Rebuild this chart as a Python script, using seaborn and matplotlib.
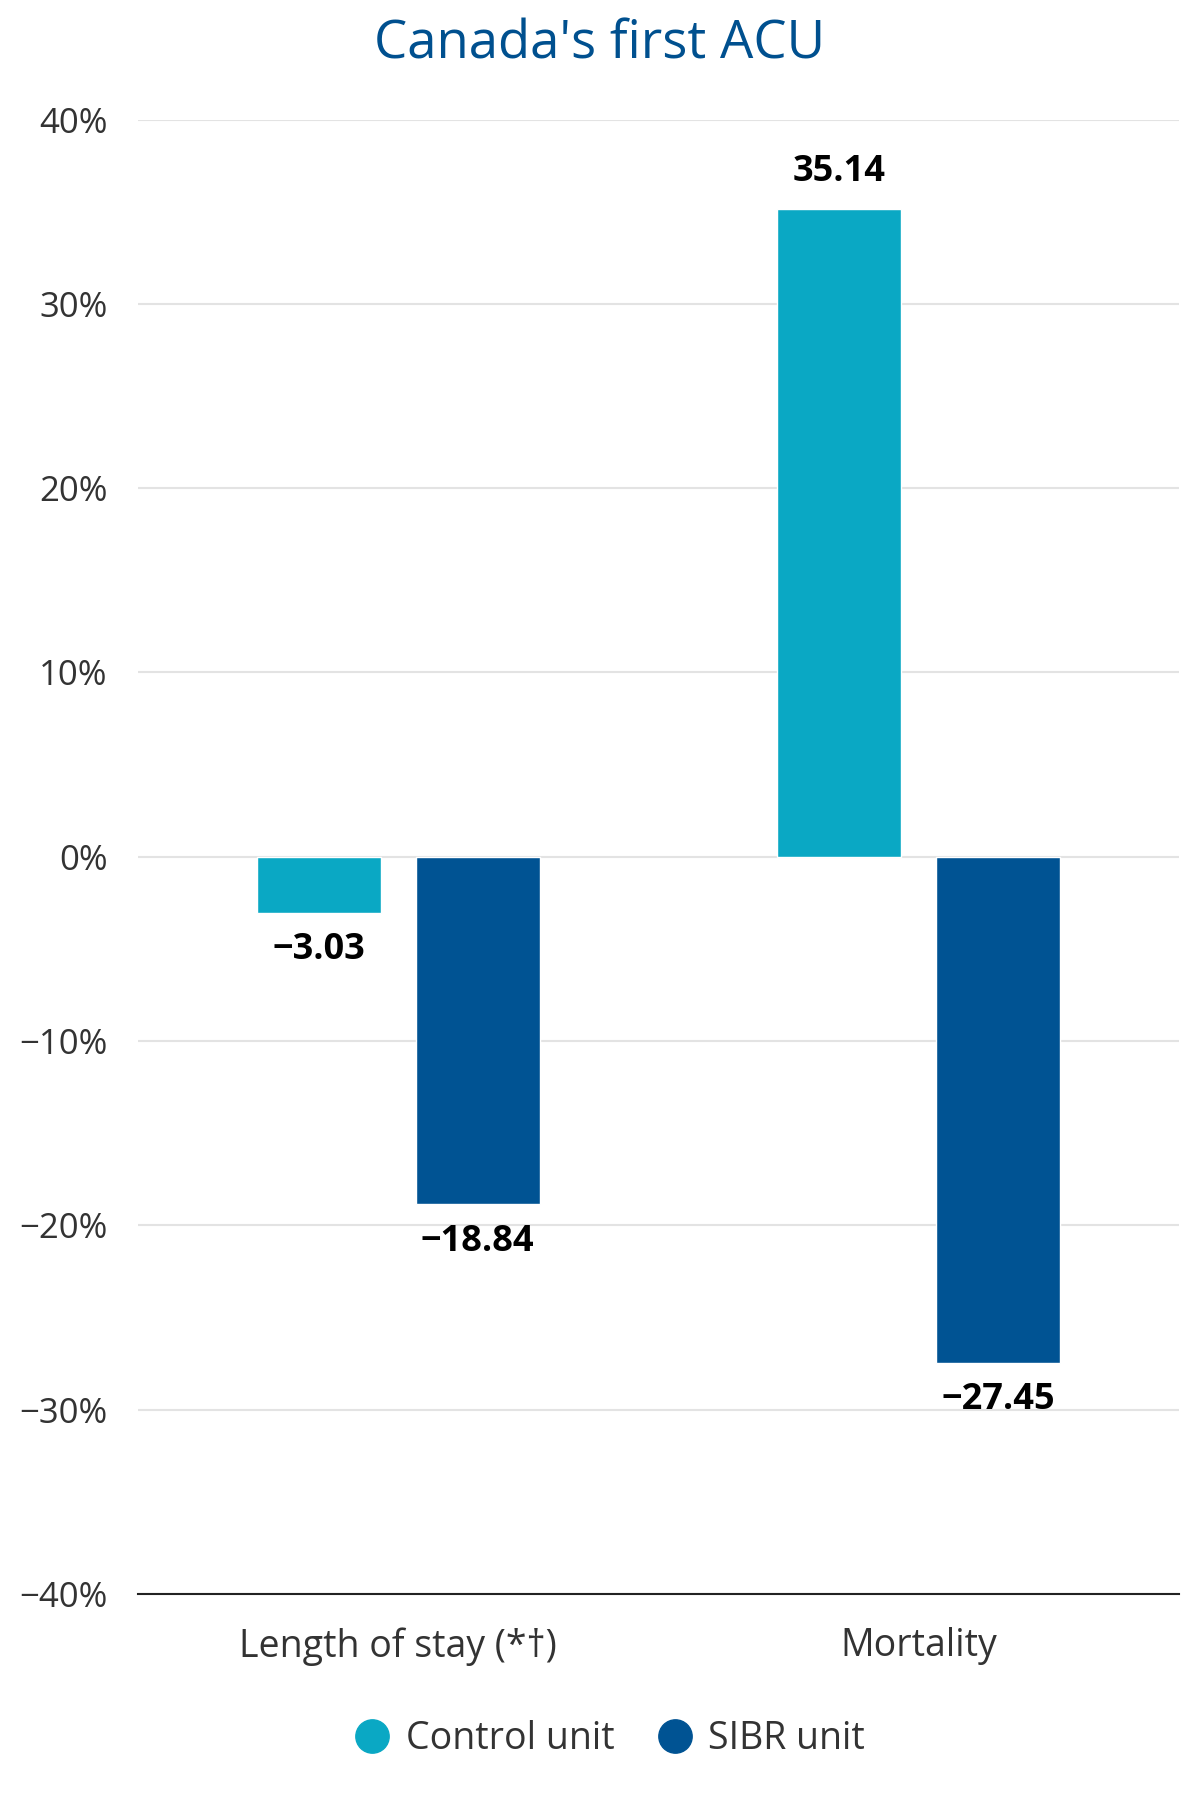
import matplotlib
matplotlib.use('Agg')
import matplotlib.pyplot as plt
import seaborn as sns
import pandas as pd
from matplotlib.lines import Line2D

# data
categories = ['Length of stay (*†)', 'Mortality']
control_unit = [-3.03, 35.14]
sibr_unit = [-18.84, -27.45]
series_names = ['Control unit', 'SIBR unit']
yticks = [-40, -30, -20, -10, 0, 10, 20, 30, 40]

colors = ['#0AA8C4', '#005393']
title_color = '#00508F'
text_color = '#333333'

df = pd.DataFrame({
    'category': categories * 2,
    'series': [series_names[0]] * 2 + [series_names[1]] * 2,
    'value': control_unit + sibr_unit,
})

sns.set_theme(style='white')
plt.rcParams['font.family'] = ['Open Sans', 'DejaVu Sans']

fig = plt.figure(figsize=(12, 18), dpi=100)
ax = fig.add_axes([0.115, 0.1144, 0.8675, 0.8192])

sns.barplot(data=df, x='category', y='value', hue='series', palette=colors,
            width=0.61, gap=0.22, saturation=1, ax=ax, legend=False)

ax.set_ylim(-40, 40)
ax.set_xlim(-0.5, 1.5)
ax.set_yticks(yticks)
ax.set_yticklabels([f'{t}%'.replace('-', '\u2212') for t in yticks])
ax.set_xlabel('')
ax.set_ylabel('')
ax.yaxis.grid(True, color='#e3e3e3', linewidth=1.5)
ax.set_axisbelow(True)
for s in ['left', 'right', 'top']:
    ax.spines[s].set_visible(False)
ax.spines['bottom'].set_color('#222222')
ax.spines['bottom'].set_linewidth(1.5)
ax.tick_params(axis='y', length=0, pad=22, labelsize=25, labelcolor=text_color)
ax.tick_params(axis='x', length=0, pad=24, labelsize=27, labelcolor=text_color)

for cont in ax.containers:
    vals = cont.datavalues
    ax.bar_label(cont, labels=[f'{v:.2f}'.replace('-', '\u2212') for v in vals],
                 padding=14, fontsize=26, fontweight='bold', color='black')

fig.text(0.5, 0.975, "Canada's first ACU", ha='center', va='center',
         fontsize=38, color=title_color)

handles = [Line2D([0], [0], marker='o', linestyle='', markersize=24,
                  markerfacecolor=c, markeredgecolor=c) for c in colors]
fig.legend(handles, series_names, loc='center', bbox_to_anchor=(0.5, 0.034),
           ncol=2, frameon=False, fontsize=27, handletextpad=-0.1,
           columnspacing=0.6, labelcolor=text_color)

fig.savefig('out.png', dpi=100)
